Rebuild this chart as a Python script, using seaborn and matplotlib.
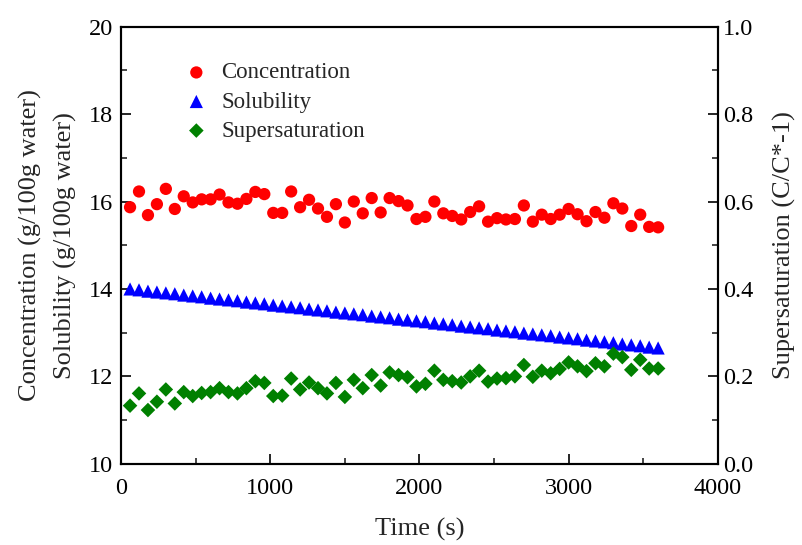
import numpy as np
import pandas as pd
import matplotlib
matplotlib.use("Agg")
import matplotlib.pyplot as plt
import seaborn as sb
from matplotlib.ticker import MultipleLocator

# dados (intervalo de 60 s)
tempo = np.arange(60, 3601, 60)

concentracao = [15.87, 16.23, 15.69, 15.94, 16.29, 15.83, 16.12, 15.98, 16.05, 16.05,
                16.16, 15.98, 15.95, 16.06, 16.22, 16.17, 15.74, 15.74, 16.23, 15.87,
                16.04, 15.84, 15.65, 15.94, 15.52, 16.00, 15.73, 16.08, 15.75, 16.08,
                16.01, 15.91, 15.60, 15.65, 16.00, 15.73, 15.67, 15.59, 15.76, 15.89,
                15.54, 15.62, 15.59, 15.60, 15.91, 15.54, 15.70, 15.60, 15.70, 15.83,
                15.71, 15.55, 15.76, 15.63, 15.96, 15.84, 15.44, 15.70, 15.42, 15.41]

solubilidade = [14.00, 13.98, 13.95, 13.93, 13.91, 13.89, 13.86, 13.84, 13.82, 13.79,
                13.77, 13.75, 13.73, 13.70, 13.68, 13.66, 13.63, 13.61, 13.59, 13.57,
                13.54, 13.52, 13.50, 13.47, 13.45, 13.43, 13.41, 13.38, 13.36, 13.34,
                13.31, 13.29, 13.27, 13.25, 13.22, 13.20, 13.18, 13.15, 13.13, 13.11,
                13.09, 13.06, 13.04, 13.02, 12.99, 12.97, 12.95, 12.93, 12.90, 12.88,
                12.86, 12.83, 12.81, 12.79, 12.77, 12.74, 12.72, 12.70, 12.67, 12.65]

supersaturacao = [0.133, 0.161, 0.123, 0.142, 0.170, 0.138, 0.164, 0.155, 0.162, 0.164,
                  0.173, 0.164, 0.161, 0.173, 0.189, 0.185, 0.155, 0.156, 0.195, 0.170,
                  0.186, 0.173, 0.161, 0.185, 0.153, 0.192, 0.173, 0.203, 0.179, 0.209,
                  0.203, 0.198, 0.177, 0.183, 0.213, 0.192, 0.189, 0.186, 0.200, 0.213,
                  0.188, 0.195, 0.196, 0.200, 0.226, 0.199, 0.213, 0.207, 0.217, 0.232,
                  0.223, 0.212, 0.230, 0.223, 0.252, 0.244, 0.215, 0.238, 0.218, 0.218]

dados = pd.DataFrame({"Tempo": tempo, "Concentration": concentracao,
                      "Solubility": solubilidade, "Supersaturation": supersaturacao})

sb.set_style("ticks")
plt.rcParams['font.family'] = ['Liberation Serif', 'DejaVu Serif']

fig = plt.figure(figsize=(8.02, 5.45), dpi=100)
ax = fig.add_axes([0.151, 0.149, 0.744, 0.802])
ax2 = ax.twinx()

sb.scatterplot(data=dados, x="Tempo", y="Concentration", ax=ax, color="#ff0000",
               marker="o", s=78, edgecolor="none", label="Concentration", legend=False)
sb.scatterplot(data=dados, x="Tempo", y="Solubility", ax=ax, color="#0000ff",
               marker="^", s=90, edgecolor="none", label="Solubility", legend=False)
sb.scatterplot(data=dados, x="Tempo", y="Supersaturation", ax=ax2, color="#008000",
               marker="D", s=55, edgecolor="none", label="Supersaturation", legend=False)

ax.set_xlim(0, 4000)
ax.set_ylim(10, 20)
ax2.set_ylim(0, 1.0)

ax.xaxis.set_major_locator(MultipleLocator(1000))
ax.xaxis.set_minor_locator(MultipleLocator(500))
ax.yaxis.set_major_locator(MultipleLocator(2))
ax.yaxis.set_minor_locator(MultipleLocator(1))
ax2.yaxis.set_major_locator(MultipleLocator(0.2))
ax2.yaxis.set_minor_locator(MultipleLocator(0.1))
ax2.yaxis.set_major_formatter(matplotlib.ticker.FormatStrFormatter('%.1f'))

for a in (ax, ax2):
    a.tick_params(which='major', direction='in', length=7, width=1.2, labelsize=17.5, colors='black')
    a.tick_params(which='minor', direction='in', length=4, width=1.2)
    for sp in a.spines.values():
        sp.set_linewidth(1.5)
        sp.set_visible(True)
        sp.set_color('black')
ax.tick_params(axis='x', which='both', pad=10, top=False)
ax.tick_params(axis='y', which='both', pad=6, right=False)
ax2.tick_params(axis='x', which='both', top=False, bottom=False)
ax2.tick_params(axis='y', pad=4)

ax.set_xlabel("Time (s)", fontsize=19, labelpad=14)
ax.set_ylabel("Concentration (g/100g water)\nSolubility (g/100g water)", fontsize=19,
              linespacing=1.7, labelpad=8)
ax2.set_ylabel("Supersaturation (C/C*-1)", fontsize=19, labelpad=14)

h1, l1 = ax.get_legend_handles_labels()
h2, l2 = ax2.get_legend_handles_labels()
ax.legend(h1 + h2, l1 + l2, loc='upper left', bbox_to_anchor=(0.08, 0.955), frameon=False,
          fontsize=16.5, handlelength=1.0, handletextpad=0.6, labelspacing=0.35,
          borderaxespad=0.3)

fig.savefig("out.png", dpi=100)
